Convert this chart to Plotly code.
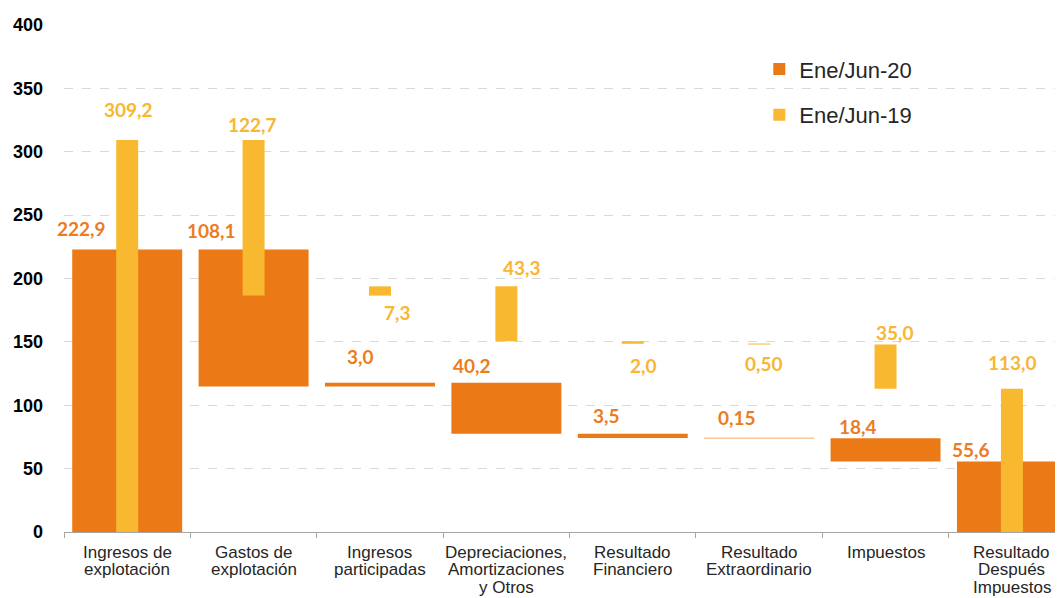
import plotly.graph_objects as go

# ---------------- data ----------------
categories = [
    "Ingresos de<br>explotación",
    "Gastos de<br>explotación",
    "Ingresos<br>participadas",
    "Depreciaciones,<br>Amortizaciones<br>y Otros",
    "Resultado<br>Financiero",
    "Resultado<br>Extraordinario",
    "Impuestos",
    "Resultado<br>Después<br>Impuestos",
]
is_total = [True, False, False, False, False, False, False, True]
jun20 = [222.9, -108.1, 3.0, -40.2, -3.5, -0.15, -18.4, 55.6]
jun19 = [309.2, -122.7, 7.3, -43.3, -2.0, -0.5, -35.0, 113.0]
labels20 = ["222,9", "108,1", "3,0", "40,2", "3,5", "0,15", "18,4", "55,6"]
labels19 = ["309,2", "122,7", "7,3", "43,3", "2,0", "0,50", "35,0", "113,0"]
name20 = "Ene/Jun-20"
name19 = "Ene/Jun-19"
yticks = [0, 50, 100, 150, 200, 250, 300, 350, 400]

# ---------------- styling / label placement ----------------
ORANGE = "#EB7A16"
YELLOW = "#F8B931"
ORANGE_TXT = "#EC7C1E"
YELLOW_TXT = "#F8B633"
off20 = [(-46, 21), (-42, 19), (-19, 26), (-34, 17), (-26, 18), (-22, 21), (-28, 12), (-41, 12)]
anchor19 = ["top", "top", "bottom", "top", "bottom", "bottom", "top", "top"]
off19 = [(1, 31), (-1, 16), (18, -17), (16, 19), (11, -22), (5, -19), (9, 12), (1, 26)]
CAT_LINE_Y = [-20, -37.7, -55.4]   # px below axis for each label line


def waterfall(values):
    bases, heights = [], []
    running = 0.0
    for v, tot in zip(values, is_total):
        if tot:
            bases.append(0.0)
            heights.append(v)
            running = v
        elif v >= 0:
            bases.append(running)
            heights.append(v)
            running += v
        else:
            bases.append(running + v)
            heights.append(-v)
            running += v
    return bases, heights


b20, h20 = waterfall(jun20)
b19, h19 = waterfall(jun19)

fig = go.Figure()
fig.add_trace(go.Bar(
    x=categories, y=h20, base=b20, width=0.87, name=name20,
    marker=dict(color=ORANGE,
                line=dict(color=["rgba(0,0,0,0)"] * 5 + ["#F9C79E"] + ["rgba(0,0,0,0)"] * 2,
                          width=[0] * 5 + [1] + [0] * 2)),
    legendgroup="a", hoverinfo="skip",
))
fig.add_trace(go.Bar(
    x=categories, y=h19, base=b19, width=0.174, name=name19,
    marker=dict(color=YELLOW,
                line=dict(color=["rgba(0,0,0,0)"] * 5 + ["#FBD98C"] + ["rgba(0,0,0,0)"] * 2,
                          width=[0] * 5 + [1] + [0] * 2)),
    legendgroup="b", hoverinfo="skip",
))

ann = []
for i, cat in enumerate(categories):
    dx, dy = off20[i]
    ann.append(dict(x=cat, y=b20[i] + h20[i], text=labels20[i], showarrow=False,
                    xshift=dx, yshift=dy, xanchor="center", yanchor="middle",
                    font=dict(family="Lato", size=19, color=ORANGE_TXT, weight="bold")))
    dx, dy = off19[i]
    yref_val = b19[i] + h19[i] if anchor19[i] == "top" else b19[i]
    ann.append(dict(x=cat, y=yref_val, text=labels19[i], showarrow=False,
                    xshift=dx, yshift=dy, xanchor="center", yanchor="middle",
                    font=dict(family="Lato", size=19, color=YELLOW_TXT, weight="bold")))
    # category label, one annotation per line for tight line spacing
    for j, line in enumerate(cat.split("<br>")):
        ann.append(dict(x=cat, y=0, yref="paper", text=line, showarrow=False,
                        yshift=CAT_LINE_Y[j], xanchor="center", yanchor="middle",
                        font=dict(family="Arial", size=17, color="#262626")))

# the page body has an 8px default margin, so the figure is sized to fit the window
fig.update_layout(
    width=1055, height=590,
    margin=dict(l=56, r=0, t=17, b=66),
    paper_bgcolor="white", plot_bgcolor="white",
    barmode="overlay",
    showlegend=True,
    legend=dict(x=0.696, y=0.954, xanchor="left", yanchor="top",
                font=dict(family="Arial", size=22, color="#262626"),
                tracegroupgap=14, bgcolor="rgba(0,0,0,0)"),
    annotations=ann,
    xaxis=dict(
        type="category", range=[-0.5, 7.404], automargin=False,
        showline=True, linecolor="#A6A6A6", linewidth=1,
        ticks="outside", tickson="boundaries", ticklen=5, tickcolor="#A6A6A6",
        showgrid=False, showticklabels=False,
    ),
    yaxis=dict(
        range=[0, 400], tickvals=yticks, automargin=False,
        showgrid=True, gridcolor="#D9D9D9", griddash="dash", gridwidth=1,
        zeroline=False, showline=False, ticks="",
        ticklabelstandoff=20,
        tickfont=dict(family="Arial", size=18, color="#000000", weight="bold"),
    ),
)

fig.write_html("out.html")
